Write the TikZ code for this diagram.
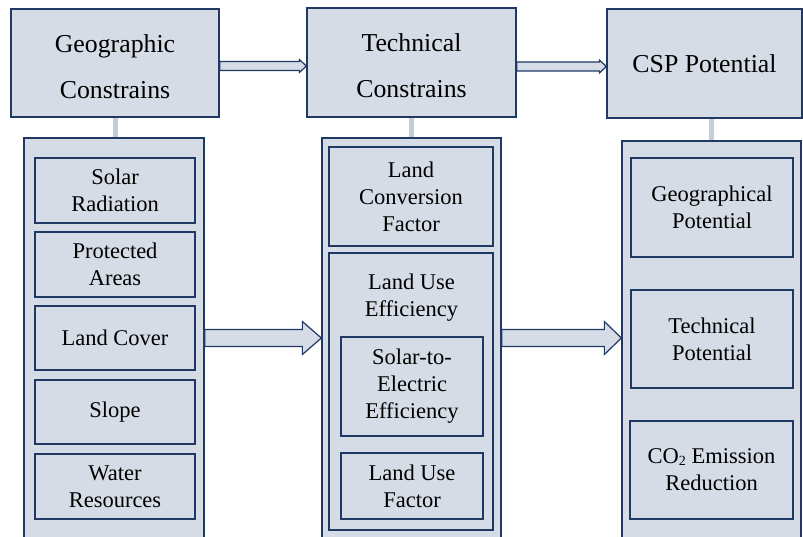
\documentclass[tikz,border=0pt]{standalone}
\usepackage{fontspec}
\setmainfont{Liberation Serif}
\usetikzlibrary{calc}
\definecolor{boxfill}{HTML}{D6DCE5}
\definecolor{boxline}{HTML}{203864}
\definecolor{stemcol}{HTML}{C5CDD9}
\newcommand\blockarrow[5]{%
  \draw[barrow] let \p1=(#1), \p2=(#2) in
    (\x1,\y1+#3) -- (\x2-#5,\y1+#3) -- (\x2-#5,\y1+#4) -- (\x2,\y1)
    -- (\x2-#5,\y1-#4) -- (\x2-#5,\y1-#3) -- (\x1,\y1-#3) -- cycle;}
\newcommand\topstrut{\rule{0pt}{25pt}}
\newcommand\subtwo{{\fontsize{14}{14}\selectfont\raisebox{-2pt}{2}}}
\begin{document}
\begin{tikzpicture}[x=1pt,y=-1pt,
  box/.style={draw=boxline, fill=boxfill, line width=1.3pt, inner sep=0pt, align=center, text=black},
  topbox/.style={box, font=\fontsize{25.8}{46}\selectfont},
  itembox/.style={box, font=\fontsize{22.5}{27}\selectfont},
  plaintext/.style={inner sep=0pt, align=center, text=black, font=\fontsize{22.5}{27}\selectfont},
  stem/.style={draw=stemcol, line width=5pt},
  barrow/.style={draw=boxline, fill=boxfill, line width=1.2pt, line join=miter}]
\useasboundingbox (0,0) rectangle (803,537);
\clip (0,0) rectangle (803,537);
\fill[white] (0,0) rectangle (803,537);

% top boxes
\node[topbox, minimum width=208pt, minimum height=108pt] (geo) at (115,63) {\topstrut Geographic\\Constrains};
\node[topbox, minimum width=209pt, minimum height=109pt] (tech) at (411.5,62.5) {\topstrut Technical\\Constrains};
\node[topbox, minimum width=195pt, minimum height=109pt] (csp) at (704.5,63.5) {CSP Potential};

% containers
\node[box, minimum width=180pt, minimum height=422pt] (leftc) at (114,349) {};
\node[box, minimum width=179pt, minimum height=422pt] (midc) at (411.5,349) {};
\node[box, minimum width=179pt, minimum height=419pt] (rightc) at (711.5,350.5) {};

% stems
\draw[stem] (geo.south) -- (geo.south |- leftc.north);
\draw[stem] (tech.south) -- (tech.south |- midc.north);
\draw[stem] (rightc.north) -- (rightc.north |- csp.south);

% left items
\node[itembox, minimum width=160pt, minimum height=65pt] (solar) at (115,190.5) {Solar\\Radiation};
\node[itembox, minimum width=160pt, minimum height=65pt] (prot) at (115,264.5) {Protected\\Areas};
\node[itembox, minimum width=160pt, minimum height=64pt] (lc) at (115,338) {Land Cover};
\node[itembox, minimum width=160pt, minimum height=64pt] (slope) at (115,412) {Slope};
\node[itembox, minimum width=160pt, minimum height=65pt] (water) at (115,486.5) {Water\\Resources};

% middle items
\node[itembox, minimum width=164pt, minimum height=99pt] (lcf) at (411,196.5) {Land\\Conversion\\Factor};
\node[itembox, minimum width=164pt, minimum height=277pt] (lue) at (411,391.5) {};
\node[plaintext, anchor=north] (luetext) at (411.5,273.5) {Land Use\\Efficiency};
\node[itembox, minimum width=142pt, minimum height=99pt] (s2e) at (412,386.5) {Solar-to-\\Electric\\Efficiency};
\node[itembox, minimum width=142pt, minimum height=66pt] (luf) at (412,486) {Land Use\\Factor};

% right items
\node[itembox, minimum width=162pt, minimum height=99pt] (geop) at (712,207.5) {Geographical\\Potential};
\node[itembox, minimum width=162pt, minimum height=98pt] (techp) at (712,339) {Technical\\Potential};
\node[itembox, minimum width=163pt, minimum height=98pt] (co2) at (711.5,470) {CO\subtwo{} Emission\\Reduction};

% arrows
\blockarrow{$(geo.east)+(0,3)$}{$(tech.west)+(0,3)$}{4.5pt}{6.5pt}{7pt}
\blockarrow{$(tech.east)+(0,4)$}{$(csp.west)+(0,4)$}{4.5pt}{6.5pt}{7pt}
\blockarrow{lc.center -| leftc.east}{lc.center -| midc.west}{8.5pt}{16.5pt}{19pt}
\blockarrow{lc.center -| midc.east}{lc.center -| rightc.west}{8.5pt}{16.5pt}{17pt}
\end{tikzpicture}
\end{document}
